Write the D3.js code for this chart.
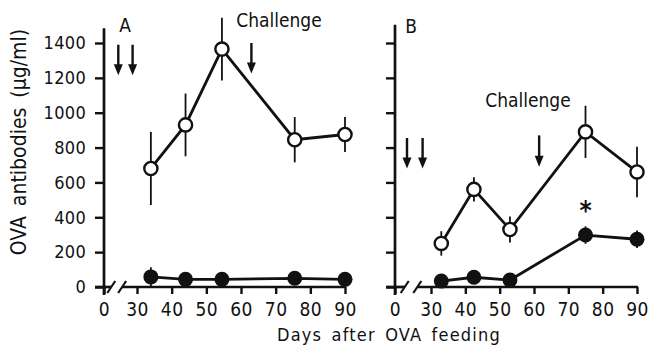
<!DOCTYPE html>
<html>
<head>
<meta charset="utf-8">
<script src="https://cdn.jsdelivr.net/npm/d3@7"></script>
<style>
  body { margin: 0; background: #fff; }
  svg text { font-family: "DejaVu Sans Condensed", "DejaVu Sans", sans-serif; fill: #111; }
</style>
</head>
<body>
<div id="chart"></div>
<script>
// Days after OVA feeding and antibody values (ug/ml)
const daysA = [34, 44, 54.5, 75.5, 90];
const openA = [680, 930, 1365, 845, 875];
const openAErr = [210, 180, 180, 130, 100];
const filledA = [58, 44, 44, 50, 44];
const filledAErr = [55, 10, 10, 10, 10];

const daysB = [33, 42.5, 53, 75, 90];
const openB = [250, 560, 330, 890, 660];
const openBErr = [70, 70, 75, 150, 145];
const filledB = [34, 56, 40, 298, 274];
const filledBErr = [10, 10, 10, 50, 50];

const xTicks = [0, 30, 40, 50, 60, 70, 80, 90];
const yTicks = [0, 200, 400, 600, 800, 1000, 1200, 1400];

// arrows: [day, top value, bottom value]
const feedArrowsA = [[13, 1390, 1215], [26, 1390, 1215]];
const challengeA = [63, 1400, 1225];
const feedArrowsB = [[10, 855, 680], [23, 855, 680]];
const challengeB = [61.5, 870, 690];

const width = 650;
const height = 345;

const svg = d3.select('#chart')
    .append('svg')
    .attr('width', width)
    .attr('height', height);

const yScale = d3.scaleLinear()
    .domain([0, 1400])
    .range([287, 43]);

function drawPanel(opt)
{
    const g = svg.append('g');

    // broken x scale: 0 .. // .. 30 .. 90
    const xScale = d3.scaleLinear()
        .domain([0, 30, 90])
        .range(opt.xRange);

    const x0 = xScale(0);
    const base = yScale(0);

    // y axis
    const yAxis = d3.axisLeft(yScale)
        .tickValues(yTicks)
        .tickSize(9)
        .tickSizeOuter(0)
        .tickFormat(opt.yLabels ? d3.format('d') : '');
    const yg = g.append('g')
        .attr('transform', `translate(${x0}, 0)`)
        .call(yAxis);
    yg.select('.domain').remove();
    yg.selectAll('.tick line').attr('stroke', '#111').attr('stroke-width', 2.4);
    yg.selectAll('.tick text')
        .attr('x', -18)
        .style('font-size', '18px')
        .style('letter-spacing', '0.3px');

    g.append('line')
        .attr('x1', x0).attr('x2', x0)
        .attr('y1', yScale(opt.yTop)).attr('y2', base + 8)
        .attr('stroke', '#111').attr('stroke-width', 2.7);

    // x axis
    const xAxis = d3.axisBottom(xScale)
        .tickValues(xTicks)
        .tickSize(7)
        .tickSizeOuter(0);
    const xg = g.append('g')
        .attr('transform', `translate(0, ${base})`)
        .call(xAxis);
    xg.select('.domain').remove();
    xg.selectAll('.tick line').attr('stroke', '#111').attr('stroke-width', 2.4);
    xg.selectAll('.tick text')
        .attr('y', 16)
        .style('font-size', '19px')
        .style('letter-spacing', '0.5px');

    // axis line with the break
    const gap = xScale(30) - x0;
    const s1 = x0 + gap * opt.breaks[0];
    const s2 = x0 + gap * opt.breaks[1];
    g.append('line')
        .attr('x1', x0 - 9).attr('x2', s1)
        .attr('y1', base).attr('y2', base)
        .attr('stroke', '#111').attr('stroke-width', 2.7);
    g.append('line')
        .attr('x1', s2).attr('x2', xScale(90) + 1)
        .attr('y1', base).attr('y2', base)
        .attr('stroke', '#111').attr('stroke-width', 2.7);
    [s1, s2].forEach(s => {
        g.append('line')
            .attr('x1', s - 4).attr('x2', s + 4)
            .attr('y1', base + 6).attr('y2', base - 6)
            .attr('stroke', '#111').attr('stroke-width', 2.2);
    });

    // series
    function series(days, vals, errs, open)
    {
        const pts = days.map((d, i) => ({ d: d, v: vals[i], e: errs[i] }));
        g.selectAll(null)
            .data(pts)
            .enter()
            .append('line')
            .attr('x1', p => xScale(p.d)).attr('x2', p => xScale(p.d))
            .attr('y1', p => yScale(p.v + p.e)).attr('y2', p => yScale(Math.max(0, p.v - p.e)))
            .attr('stroke', '#111').attr('stroke-width', 1.8);

        const line = d3.line()
            .x(p => xScale(p.d))
            .y(p => yScale(p.v));
        g.append('path')
            .datum(pts)
            .attr('d', line)
            .attr('fill', 'none')
            .attr('stroke', '#111')
            .attr('stroke-width', 2.8);

        g.selectAll(null)
            .data(pts)
            .enter()
            .append('circle')
            .attr('cx', p => xScale(p.d))
            .attr('cy', p => yScale(p.v))
            .attr('r', open ? 6.6 : 7.5)
            .attr('fill', open ? '#fff' : '#111')
            .attr('stroke', '#111')
            .attr('stroke-width', open ? 2.4 : 0);
    }
    series(opt.days, opt.open, opt.openErr, true);
    series(opt.days, opt.filled, opt.filledErr, false);

    // arrows
    function arrow(a)
    {
        const ax = xScale(a[0]);
        const yt = yScale(a[1]);
        const yb = yScale(a[2]);
        g.append('line')
            .attr('x1', ax).attr('x2', ax)
            .attr('y1', yt).attr('y2', yb - 8)
            .attr('stroke', '#111').attr('stroke-width', 2.4);
        g.append('path')
            .attr('d', `M${ax - 4.5},${yb - 11} L${ax + 4.5},${yb - 11} L${ax},${yb} Z`)
            .attr('fill', '#111');
    }
    opt.feedArrows.forEach(arrow);
    arrow(opt.challenge);

    // labels
    g.append('text')
        .attr('x', opt.challengeLabel[0])
        .attr('y', opt.challengeLabel[1])
        .attr('text-anchor', 'middle')
        .style('font-size', '19px')
        .text('Challenge');

    g.append('text')
        .attr('x', opt.panelLabel[0])
        .attr('y', opt.panelLabel[1])
        .attr('text-anchor', 'middle')
        .style('font-size', '19px')
        .text(opt.name);

    return xScale;
}

drawPanel({
    name: 'A',
    xRange: [104, 137, 345],
    yTop: 1485,
    yLabels: true,
    breaks: [0.22, 0.55],
    days: daysA, open: openA, openErr: openAErr, filled: filledA, filledErr: filledAErr,
    feedArrows: feedArrowsA, challenge: challengeA,
    challengeLabel: [279, 27],
    panelLabel: [125, 32]
});

const xB = drawPanel({
    name: 'B',
    xRange: [395, 431, 637],
    yTop: 1505,
    yLabels: false,
    breaks: [0.27, 0.62],
    days: daysB, open: openB, openErr: openBErr, filled: filledB, filledErr: filledBErr,
    feedArrows: feedArrowsB, challenge: challengeB,
    challengeLabel: [528, 107],
    panelLabel: [411, 33]
});

// significance marker
svg.append('text')
    .attr('x', xB(daysB[3]))
    .attr('y', 220)
    .attr('text-anchor', 'middle')
    .style('font-size', '26px')
    .style('font-weight', 'bold')
    .text('*');

// axis titles
svg.append('text')
    .attr('x', 389)
    .attr('y', 341)
    .attr('text-anchor', 'middle')
    .style('font-size', '18px')
    .style('letter-spacing', '1.2px')
    .style('word-spacing', '3px')
    .text('Days after OVA feeding');

svg.append('text')
    .attr('transform', 'rotate(-90)')
    .attr('x', -142)
    .attr('y', 26)
    .attr('text-anchor', 'middle')
    .style('font-size', '21px')
    .style('word-spacing', '4px')
    .text('OVA antibodies (μg/ml)');
</script>
</body>
</html>
